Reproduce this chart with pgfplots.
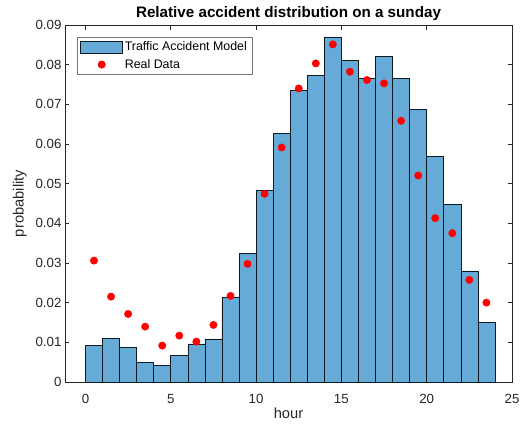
\documentclass[border=0pt]{standalone}
\usepackage{pgfplots}
\pgfplotsset{compat=1.18}
\usepackage{fontspec}
\setmainfont{Liberation Sans}
\definecolor{barblue}{RGB}{102,170,215}
\definecolor{axgray}{RGB}{38,38,38}
\begin{document}
\begin{tikzpicture}
\useasboundingbox (-65bp,-43bp) rectangle (459bp,382bp);
\begin{axis}[
  at={(0,0)}, anchor=south west,
  scale only axis, width=447bp, height=357bp,
  xmin=-1.2, xmax=25, ymin=0, ymax=0.09,
  xtick={0,5,10,15,20,25},
  ytick={0,0.01,0.02,0.03,0.04,0.05,0.06,0.07,0.08,0.09},
  yticklabels={0,0.01,0.02,0.03,0.04,0.05,0.06,0.07,0.08,0.09},
  scaled y ticks=false,
  /pgf/number format/assume math mode=true,
  tick align=inside, tick pos=both,
  major tick length=4.5bp,
  axis line style={axgray, line width=0.6bp},
  every tick/.style={axgray, line width=0.6bp},
  tick label style={font=\fontsize{13.3bp}{16bp}\selectfont, text=axgray},
  xticklabel style={yshift=-8.5bp},
  label style={font=\fontsize{14.7bp}{17bp}\selectfont, text=axgray},
  xlabel={hour}, ylabel={probability},
  xlabel style={yshift=2.5bp},
  ylabel style={yshift=2bp},
  title={Relative accident distribution on a sunday},
  title style={font=\bfseries\fontsize{15.2bp}{18bp}\selectfont, at={(0.5,1)}, anchor=south, yshift=-5bp},
  legend style={at={(0,1)}, anchor=north west, xshift=11.7bp, yshift=-11.7bp,
    draw=black!55, line width=0.5bp, fill=white,
    font=\fontsize{12.4bp}{14bp}\selectfont, inner xsep=3.5bp, inner ysep=3bp, row sep=3.5bp,
    nodes={inner sep=1.8bp}},
  legend cell align=left,
]
\addplot[ybar interval, fill=barblue, draw=black!85!barblue, line width=0.6bp,
  legend image code/.code={\draw[fill=barblue, draw=black!85!barblue, line width=0.6bp] (0bp,-6bp) rectangle (42bp,6bp);}]
coordinates {
(0,0.00926) (1,0.01102) (2,0.00875) (3,0.00488) (4,0.00420) (5,0.00673)
(6,0.00959) (7,0.01085) (8,0.02145) (9,0.03247) (10,0.04828) (11,0.06265)
(12,0.07343) (13,0.07739) (14,0.08698) (15,0.08117) (16,0.07663) (17,0.08209)
(18,0.07646) (19,0.06881) (20,0.05695) (21,0.04474) (22,0.02801) (23,0.01506)
(24,0.01506)
};
\addlegendentry{Traffic Accident Model}
\addplot[only marks, mark=*, mark size=3.7bp, mark options={draw=red, fill=red},
  legend image code/.code={\fill[red] (21bp,0bp) circle (3.7bp);}]
coordinates {
(0.5,0.03061) (1.5,0.02153) (2.5,0.01716) (3.5,0.01396) (4.5,0.00917) (5.5,0.01169)
(6.5,0.01018) (7.5,0.01438) (8.5,0.0217) (9.5,0.02978) (10.5,0.04744) (11.5,0.05912)
(12.5,0.07401) (13.5,0.08032) (14.5,0.08511) (15.5,0.07822) (16.5,0.07613) (17.5,0.07528)
(18.5,0.06586) (19.5,0.05206) (20.5,0.04131) (21.5,0.03752) (22.5,0.02574) (23.5,0.02001)
};
\addlegendentry{Real Data}
\end{axis}
\end{tikzpicture}
\end{document}
